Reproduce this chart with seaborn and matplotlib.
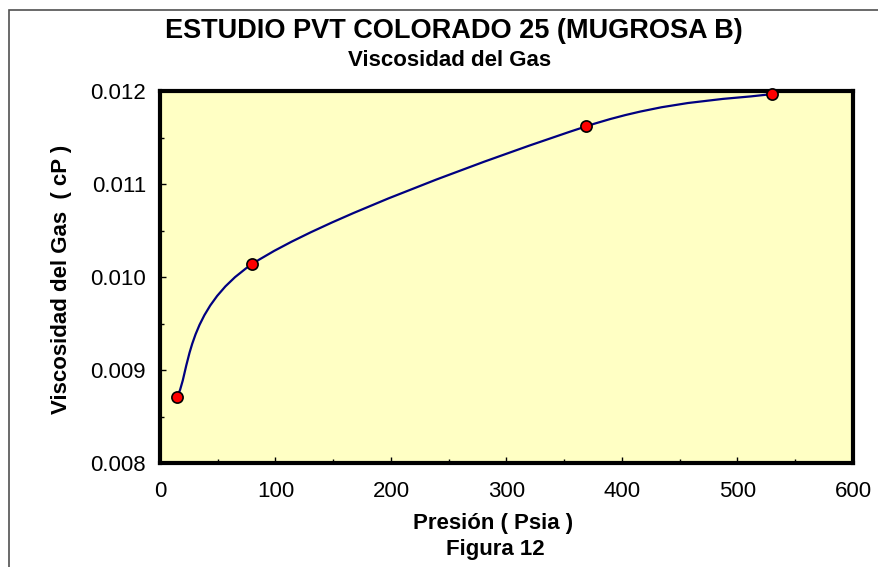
import numpy as np
import matplotlib
matplotlib.use("Agg")
import matplotlib.pyplot as plt
from matplotlib.path import Path
from matplotlib.patches import PathPatch, Rectangle
from matplotlib.ticker import MultipleLocator, FormatStrFormatter
import seaborn as sns
import pandas as pd

# Data
presion = [14.7, 80, 369, 530]
viscosidad = [0.00871, 0.01014, 0.01162, 0.01197]

x_ticks = [0, 100, 200, 300, 400, 500, 600]
y_ticks = [0.008, 0.009, 0.010, 0.011, 0.012]

titulo = "ESTUDIO PVT COLORADO 25 (MUGROSA B)"
subtitulo = "Viscosidad del Gas"
etiqueta_x = "Presión ( Psia )"
etiqueta_y = "Viscosidad del Gas  ( cP )"
figura = "Figura 12"


# Excel-like smoothed line: cubic bezier through points, built in pixel space
def smooth_path(ax, xs, ys):
    pts = ax.transData.transform(np.column_stack([xs, ys]))
    n = len(pts)
    verts = [pts[0]]
    codes = [Path.MOVETO]
    for i in range(n - 1):
        p0 = pts[i - 1] if i > 0 else pts[i]
        p1 = pts[i]
        p2 = pts[i + 1]
        p3 = pts[i + 2] if i + 2 < n else pts[i + 1]
        c1 = p1 + (p2 - p0) / 6.0
        c2 = p2 - (p3 - p1) / 6.0
        verts += [c1, c2, p2]
        codes += [Path.CURVE4] * 3
    verts = ax.transData.inverted().transform(np.array(verts))
    return Path(verts, codes)


def main():
    sns.set_style("ticks")
    plt.rcParams["font.family"] = ["Liberation Sans", "DejaVu Sans"]
    plt.rcParams["text.color"] = "black"
    plt.rcParams["axes.labelcolor"] = "black"

    df = pd.DataFrame({"Presion": presion, "Viscosidad": viscosidad})

    W, H = 879, 567
    fig = plt.figure(figsize=(W / 100, H / 100), dpi=100)
    fig.patch.set_facecolor("white")

    # outer chart frame (runs off the right and bottom edges)
    fig.patches.append(Rectangle((9 / W, -0.05), 1.2, (567 - 10) / H + 0.05,
                                 transform=fig.transFigure, fill=False,
                                 edgecolor="#505050", linewidth=1.2))

    ax = fig.add_axes([160 / W, (H - 463) / H, (853 - 160) / W, (463 - 91) / H])
    ax.set_facecolor("#FFFFC4")
    ax.set_xlim(0, 600)
    ax.set_ylim(0.008, 0.012)

    path = smooth_path(ax, df["Presion"].values, df["Viscosidad"].values)
    ax.add_patch(PathPatch(path, facecolor="none", edgecolor="#000080",
                           linewidth=1.6, zorder=3))

    sns.scatterplot(data=df, x="Presion", y="Viscosidad", ax=ax,
                    color="#FF0000", edgecolor="black", linewidth=1.2,
                    s=65, zorder=4, clip_on=False)

    ax.set_xticks(x_ticks)
    ax.set_yticks(y_ticks)
    ax.xaxis.set_minor_locator(MultipleLocator(50))
    ax.yaxis.set_minor_locator(MultipleLocator(0.0005))
    ax.yaxis.set_major_formatter(FormatStrFormatter("%.3f"))
    ax.tick_params(axis="both", which="major", direction="in", length=4,
                   width=1, labelsize=16, colors="black")
    ax.tick_params(axis="both", which="minor", direction="in", length=3,
                   width=1, colors="black")
    ax.tick_params(axis="x", pad=13)
    ax.tick_params(axis="y", pad=10)
    ax.tick_params(top=False, right=False, which="both")

    for side in ax.spines.values():
        side.set_linewidth(3)
        side.set_color("black")

    ax.set_xlabel("")
    ax.set_ylabel("")

    fig.text(454 / W, 1 - 31 / H, titulo, ha="center", va="center",
             fontsize=19.5, fontweight="bold", color="black")
    fig.text(450 / W, 1 - 60 / H, subtitulo, ha="center", va="center",
             fontsize=16, fontweight="bold", color="black")
    fig.text(493 / W, 1 - 523 / H, etiqueta_x, ha="center", va="center",
             fontsize=16, fontweight="bold", color="black")
    fig.text(495 / W, 1 - 550 / H, figura, ha="center", va="center",
             fontsize=16, fontweight="bold", color="black")
    fig.text(62 / W, 1 - 279 / H, etiqueta_y, ha="center", va="center",
             rotation=90, fontsize=16, fontweight="bold", color="black")

    fig.savefig("out.png", dpi=100)
    plt.close(fig)


if __name__ == "__main__":
    main()
